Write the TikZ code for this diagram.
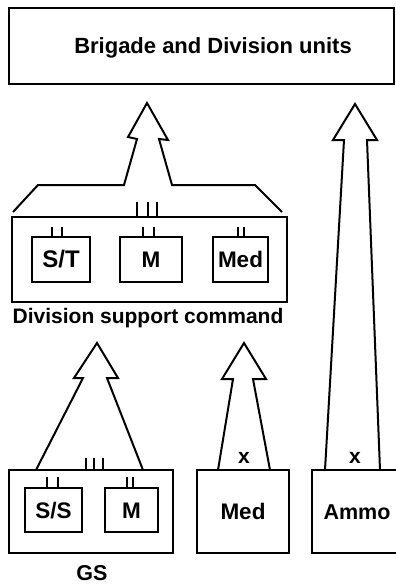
\documentclass[tikz,border=0pt]{standalone}
\usepackage{fontspec}
\setmainfont{Liberation Sans}
\begin{document}
\begin{tikzpicture}[x=1pt,y=-1pt,
  line width=2pt, line join=miter,
  unitbox/.style={draw, rectangle, inner sep=0pt, outer sep=0pt,
    minimum height=#1, font=\fontsize{22.5}{22.5}\bfseries\selectfont,
    text height=16pt, text depth=0pt},
  lbl/.style={anchor=base, inner sep=0pt, font=\fontsize{21}{21}\bfseries\selectfont},
  tick/.style={line width=1.7pt}]
\useasboundingbox (0,0) rectangle (396,586);

% top formation
\node[unitbox=76pt, minimum width=385pt] (bde) at (201.5,46) {};
\node[lbl, font=\fontsize{22}{22}\bfseries\selectfont] (bdetext) at (213,53) {Brigade and Division units};

% division support command and its units
\node[unitbox=85pt, minimum width=275pt] (dsc) at (149.5,259.5) {};
\node[unitbox=45pt, minimum width=58pt, font=\fontsize{24}{24}\bfseries\selectfont] (st) at (61,259.5) {S/T};
\node[unitbox=45pt, minimum width=62pt] (mt)  at (151,259.5) {M};
\node[unitbox=45pt, minimum width=55pt] (medt) at (240.5,259.5) {Med};
\node[lbl] (dsctext) at (148,323) {Division support command};

% general support group and the separate units
\node[unitbox=83pt, minimum width=164pt] (gs) at (91,511.5) {};
\node[unitbox=44pt, minimum width=57pt] (ss) at (53.5,510) {S/S};
\node[unitbox=44pt, minimum width=53pt] (mb) at (131.5,510) {M};
\node[unitbox=83pt, minimum width=92pt] (medb) at (243,511.5) {Med};
\node[unitbox=83pt, minimum width=90pt, font=\fontsize{21.5}{21.5}\bfseries\selectfont] (ammo) at (357,511.5) {Ammo};
\node[lbl, font=\fontsize{21.5}{21.5}\bfseries\selectfont] (gstext) at (92,580.5) {GS};
\node[lbl] (xmed) at (244,463) {x};
\node[lbl] (xammo) at (355,463) {x};

% echelon ticks
\foreach \dx in {-12.5,-1.5,7.5} \draw[tick] ([xshift=\dx pt]dsc.north) -- ++(0,-15);
\foreach \dx in {-9,1} \draw[tick] ([xshift=\dx pt]st.north) -- ++(0,-10);
\foreach \dx in {-8,3} \draw[tick] ([xshift=\dx pt]mt.north) -- ++(0,-10);
\foreach \dx in {-2.5,3.5} \draw[tick] ([xshift=\dx pt]medt.north) -- ++(0,-10);
\foreach \dx in {-5,3,12} \draw[tick] ([xshift=\dx pt]gs.north) -- ++(0,-12);
\foreach \dx in {-6.5,4.5} \draw[tick] ([xshift=\dx pt]ss.north) -- ++(0,-11);
\foreach \dx in {-4.5,1.5} \draw[tick] ([xshift=\dx pt]mb.north) -- ++(0,-11);

% support flow arrows
\draw (13,212) -- (38,185) -- (124,185) -- (137,139) -- (128,137) -- (147,103)
  -- (168,140) -- (159,139) -- (172,185) -- (255,185) -- (282,212);
\draw (36,470) -- (83,378) -- (74,378) -- (97,343) -- (118,378) -- (107,378) -- (143,470);
\draw (218,470) -- (233,379) -- (222,379) -- (244,343) -- (266,379) -- (253,379) -- (270,470);
\draw (325,470) -- (344,140) -- (333,140) -- (355,104) -- (377,140) -- (367,140) -- (380,470);
\end{tikzpicture}
\end{document}
